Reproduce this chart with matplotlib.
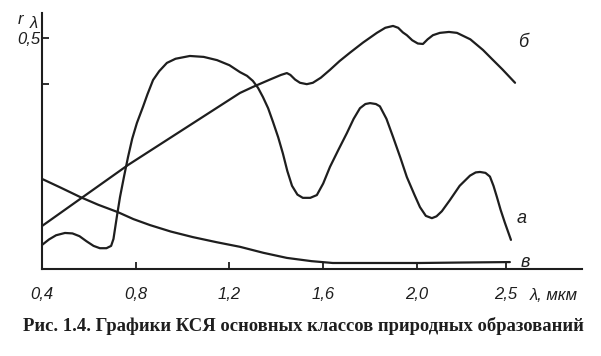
import numpy as np
import matplotlib
matplotlib.use('Agg')
import matplotlib.pyplot as plt

plt.rcParams['font.family'] = ['Liberation Sans', 'DejaVu Sans']

# ------------------------------------------ data (wavelength in mkm, r_lambda)
# curve a
a_x = [0.40, 0.43, 0.46, 0.498, 0.53, 0.56, 0.59, 0.62, 0.647, 0.675, 0.695, 0.705, 0.711, 0.72,
       0.733, 0.75, 0.767, 0.785, 0.805, 0.831, 0.85, 0.874, 0.90, 0.933, 0.97, 1.031, 1.09, 1.147,
       1.20, 1.245, 1.275, 1.300, 1.322, 1.343, 1.365, 1.386, 1.408, 1.428, 1.447, 1.467, 1.49, 1.513,
       1.545, 1.573, 1.60, 1.629, 1.665, 1.701, 1.73, 1.757, 1.78, 1.800, 1.825, 1.842, 1.87, 1.898,
       1.93, 1.957, 1.99, 2.017, 2.05, 2.084, 2.11, 2.14, 2.185, 2.24, 2.298, 2.33, 2.354, 2.385,
       2.410, 2.43, 2.449, 2.47, 2.494, 2.528]
a_y = [0.052, 0.064, 0.073, 0.078, 0.077, 0.071, 0.060, 0.050, 0.045, 0.045, 0.050, 0.065, 0.085, 0.115,
       0.156, 0.200, 0.242, 0.282, 0.316, 0.351, 0.378, 0.409, 0.428, 0.446, 0.455, 0.461, 0.459, 0.452,
       0.441, 0.426, 0.418, 0.407, 0.392, 0.372, 0.348, 0.318, 0.285, 0.250, 0.212, 0.180, 0.161, 0.154,
       0.154, 0.160, 0.185, 0.221, 0.258, 0.294, 0.325, 0.348, 0.357, 0.359, 0.357, 0.352, 0.325, 0.286,
       0.240, 0.199, 0.160, 0.134, 0.115, 0.110, 0.114, 0.125, 0.149, 0.180, 0.202, 0.209, 0.210, 0.208,
       0.200, 0.180, 0.156, 0.128, 0.100, 0.063]

# curve b (б)
b_x = [0.40, 0.767, 1.245, 1.30, 1.373, 1.42, 1.445, 1.46, 1.48, 1.501, 1.53, 1.556, 1.59, 1.629,
       1.67, 1.714, 1.77, 1.829, 1.865, 1.898, 1.92, 1.94, 1.957, 1.98, 2.005, 2.034, 2.06, 2.09,
       2.129, 2.18, 2.225, 2.30, 2.371, 2.42, 2.48, 2.551]
b_y = [0.093, 0.225, 0.381, 0.394, 0.410, 0.420, 0.424, 0.420, 0.410, 0.403, 0.400, 0.403, 0.414, 0.431,
       0.450, 0.468, 0.490, 0.511, 0.522, 0.526, 0.522, 0.512, 0.506, 0.495, 0.488, 0.487, 0.497, 0.506,
       0.511, 0.513, 0.511, 0.497, 0.474, 0.455, 0.432, 0.403]

# curve v (в)
v_x = [0.40, 0.48, 0.562, 0.64, 0.724, 0.79, 0.861, 0.95, 1.044, 1.145, 1.245, 1.345, 1.445, 1.55,
       1.641, 1.787, 2.017, 2.25, 2.522]
v_y = [0.195, 0.176, 0.156, 0.139, 0.123, 0.108, 0.095, 0.081, 0.069, 0.058, 0.048, 0.035, 0.024, 0.017,
       0.013, 0.013, 0.013, 0.014, 0.015]

xticks = [0.4, 0.8, 1.2, 1.6, 2.0, 2.5]
xtick_labels = ['0,4', '0,8', '1,2', '1,6', '2,0', '2,5']
yticks = [0.4, 0.5]
ytick_labels = ['', '0,5']

# the book's x axis is squeezed after 2.0 mkm
k = 0.76
def fwd(x):
    x = np.asarray(x, dtype=float)
    return np.where(x <= 2.0, x, 2.0 + (x - 2.0) * k)
def inv(x):
    x = np.asarray(x, dtype=float)
    return np.where(x <= 2.0, x, 2.0 + (x - 2.0) / k)

# ------------------------------------------ figure
fig = plt.figure(figsize=(6.01, 3.56), dpi=100)
ax = fig.add_axes([42 / 601, 1 - 269 / 356, 540 / 601, 256 / 356])
ax.set_xscale('function', functions=(fwd, inv))

ink = '#1e1e1e'
for xs, ys in [(a_x, a_y), (b_x, b_y), (v_x, v_y)]:
    ax.plot(xs, ys, color=ink, lw=1.6, solid_capstyle='round', solid_joinstyle='round')

ax.set_xlim(0.4, 2.927)
ax.set_ylim(0, 0.554)
for s in ['top', 'right']:
    ax.spines[s].set_visible(False)
for s in ['left', 'bottom']:
    ax.spines[s].set_linewidth(1.5)
    ax.spines[s].set_color(ink)

ax.set_xticks(xticks)
ax.set_xticklabels(xtick_labels, style='italic', fontsize=12)
ax.set_yticks(yticks)
ax.set_yticklabels(ytick_labels, style='italic', fontsize=12)
ax.tick_params(direction='in', length=5, width=1.3, color=ink, labelcolor=ink)
ax.tick_params(axis='x', pad=13)
ax.tick_params(axis='y', pad=1)
ax.minorticks_off()

# curve labels
ax.text(2.57, 0.49, 'б', style='italic', fontsize=13, color=ink, ha='left', va='center')
ax.text(2.56, 0.11, 'а', style='italic', fontsize=13, color=ink, ha='left', va='center')
ax.text(2.58, 0.015, 'в', style='italic', fontsize=13, color=ink, ha='left', va='center')

# axis titles
fig.text(20 / 601, 1 - 20 / 356, 'r', style='italic', fontsize=12, color=ink, ha='center', va='center')
fig.text(34 / 601, 1 - 24 / 356, 'λ', style='italic', fontsize=12, color=ink, ha='center', va='center')
fig.text(530 / 601, 1 - 295 / 356, 'λ, мкм', style='italic', fontsize=12, color=ink, ha='left', va='center')

# caption
fig.text(303 / 601, 1 - 326 / 356, 'Рис. 1.4. Графики КСЯ основных классов природных образований',
         family='Liberation Serif', weight='bold', fontsize=13.4, color=ink, ha='center', va='center')

fig.savefig('out.png', dpi=100)
